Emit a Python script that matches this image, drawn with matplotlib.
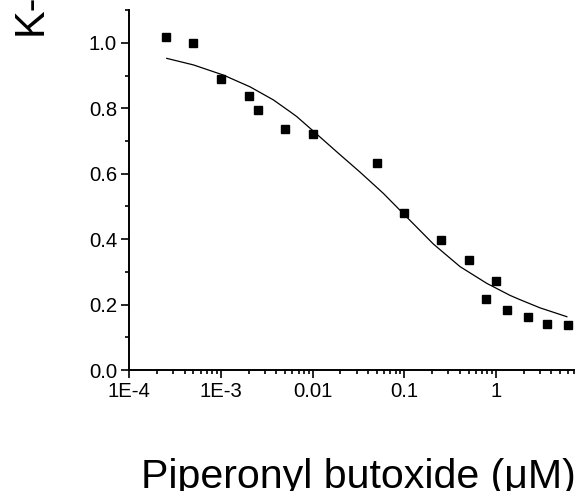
import matplotlib
matplotlib.use("Agg")
import matplotlib.pyplot as plt
from matplotlib.ticker import MultipleLocator, LogLocator, NullFormatter

plt.rcParams['font.family'] = ['Liberation Sans', 'DejaVu Sans']

# measured data points
conc = [2.5e-4, 5e-4, 1e-3, 2e-3, 2.5e-3, 5e-3, 0.01, 0.05, 0.1, 0.25, 0.5,
        0.78, 1.0, 1.3, 2.2, 3.6, 6.0]
resp = [1.019, 1.001, 0.890, 0.838, 0.795, 0.736, 0.722, 0.633, 0.479, 0.397,
        0.336, 0.217, 0.271, 0.183, 0.163, 0.140, 0.138]

# fitted curve
fit_x = [2.56e-4, 5.0e-4, 1.06e-3, 2.07e-3, 3.72e-3, 5.65e-3, 6.69e-3, 0.0102,
         0.0183, 0.0328, 0.0589, 0.0973, 0.207, 0.404, 0.789, 1.42, 1.82,
         3.01, 5.89]
fit_y = [0.953, 0.933, 0.902, 0.866, 0.826, 0.790, 0.775, 0.730,
         0.667, 0.605, 0.540, 0.478, 0.385, 0.316, 0.265, 0.228, 0.215,
         0.190, 0.163]

xtick_vals = [1e-4, 1e-3, 0.01, 0.1, 1]
xtick_labels = ["1E-4", "1E-3", "0.01", "0.1", "1"]
ytick_vals = [0.0, 0.2, 0.4, 0.6, 0.8, 1.0]
ytick_labels = ["0.0", "0.2", "0.4", "0.6", "0.8", "1.0"]

fig = plt.figure(figsize=(5.77, 4.91), dpi=100)
ax = fig.add_axes([129.3 / 577, 1 - 370 / 491, (574 - 129.3) / 577, 359.7 / 491])

ax.plot(fit_x, fit_y, color='black', lw=0.9, zorder=2)
ax.plot(conc, resp, linestyle='none', marker='s', ms=5.8, color='black', zorder=3)

ax.set_xscale('log')
ax.set_xlim(1e-4, 7.05)
ax.set_ylim(0, 1.1)

ax.set_xticks(xtick_vals)
ax.set_xticklabels(xtick_labels)
ax.xaxis.set_minor_locator(LogLocator(base=10, subs=range(2, 10), numticks=20))
ax.xaxis.set_minor_formatter(NullFormatter())
ax.set_yticks(ytick_vals)
ax.set_yticklabels(ytick_labels)
ax.yaxis.set_minor_locator(MultipleLocator(0.1))

for s in ['top', 'right']:
    ax.spines[s].set_visible(False)
for s in ['left', 'bottom']:
    ax.spines[s].set_linewidth(1.4)

ax.tick_params(which='major', direction='out', length=5.8, width=1.2,
               labelsize=14.6, pad=3)
ax.tick_params(which='minor', direction='out', length=3.2, width=1.2)

fig.text(358 / 577, 1 - 488 / 491, "Piperonyl butoxide (\u03bcM)", fontsize=29.6,
         ha='center', va='baseline')
fig.text(31 / 577, 1 - 35 / 491, "K-", fontsize=30, rotation=90,
         ha='center', va='bottom')

fig.savefig("out.png", dpi=100)
